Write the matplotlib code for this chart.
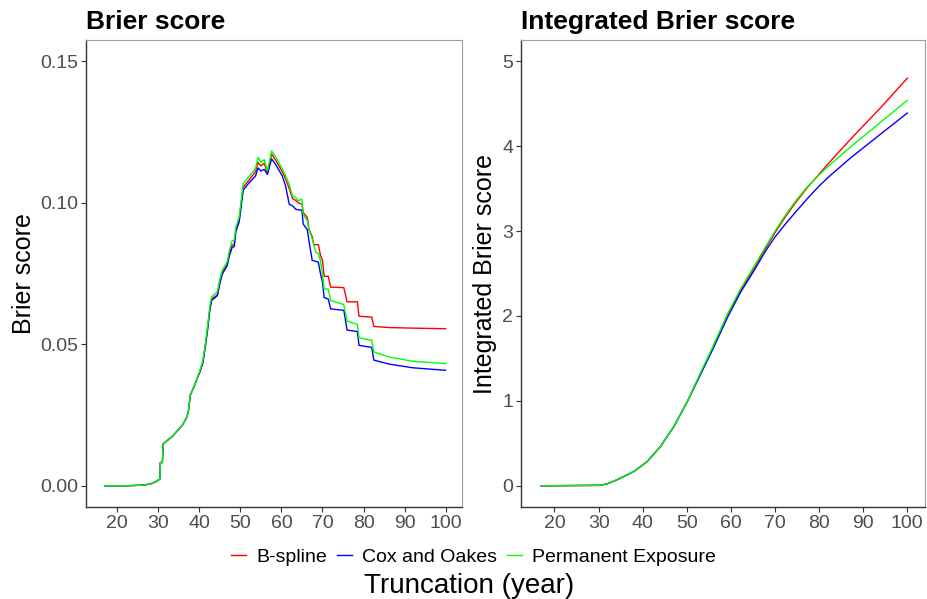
import matplotlib

matplotlib.use("Agg")

import matplotlib.pyplot as plt
from matplotlib.lines import Line2D

plt.rcParams["font.family"] = ["Liberation Sans", "DejaVu Sans"]

# Brier score by truncation age (shared evaluation grid for all three models)
bs_years = [
    17, 22, 26, 28, 29.5, 30.4, 30.5, 31.0, 31.2, 32.0, 33.4, 35.0, 35.9, 36.8,
    37.3, 37.8, 38.7, 39.5, 40.2, 40.9, 41.5, 42.0, 42.6, 43.0, 44.4, 45.0,
    45.6, 46.8, 47.3, 48.0, 48.5, 48.9, 49.7, 50.7, 52.1, 53.7, 54.3, 55.0,
    55.8, 56.6, 57.6, 58.6, 60.2, 61.0, 61.9, 62.7, 63.5, 64.1, 65.0, 65.3,
    66.3, 66.7, 67.5, 67.9, 68.4, 69.0, 69.5, 70.0, 70.4, 71.4, 72.0, 75.2,
    76.0, 78.5, 78.9, 82.0, 82.5, 86.2, 91.9, 100,
]
bs_early = [
    0.0, 0.0, 0.0002, 0.0006, 0.0015, 0.0024, 0.0082, 0.0082, 0.0148, 0.0158,
    0.0174, 0.0200, 0.0215, 0.0238, 0.0258, 0.0320, 0.0350, 0.0380,
]
bs_bspline = bs_early + [
    0.0406, 0.0440, 0.0500, 0.0555, 0.0630, 0.0660, 0.0675, 0.0720, 0.0752,
    0.0782, 0.0820, 0.0850, 0.0852, 0.0905, 0.0940, 0.1055, 0.1080, 0.1110,
    0.1143, 0.1130, 0.1140, 0.1105, 0.1172, 0.1150, 0.1110, 0.1085, 0.1050,
    0.1015, 0.1008, 0.1000, 0.0995, 0.0965, 0.0948, 0.0907, 0.0880, 0.0852,
    0.0852, 0.0852, 0.0815, 0.0796, 0.0740, 0.0740, 0.0702, 0.0700, 0.0650,
    0.0650, 0.0599, 0.0596, 0.0563, 0.0559, 0.0557, 0.0555,
]
bs_cox = bs_early + [
    0.0404, 0.0437, 0.0495, 0.0550, 0.0625, 0.0655, 0.0672, 0.0715, 0.0748,
    0.0778, 0.0812, 0.0842, 0.0845, 0.0898, 0.0932, 0.1045, 0.1070, 0.1095,
    0.1123, 0.1112, 0.1118, 0.1100, 0.1155, 0.1135, 0.1095, 0.1060, 0.0995,
    0.0989, 0.0977, 0.0975, 0.0974, 0.0925, 0.0905, 0.0866, 0.0796, 0.0795,
    0.0793, 0.0790, 0.0750, 0.0720, 0.0665, 0.0660, 0.0625, 0.0620, 0.0550,
    0.0545, 0.0496, 0.0489, 0.0444, 0.0430, 0.0417, 0.0408,
]
bs_perm = bs_early + [
    0.0410, 0.0446, 0.0505, 0.0562, 0.0640, 0.0668, 0.0686, 0.0730, 0.0762,
    0.0792, 0.0830, 0.0866, 0.0868, 0.0913, 0.0950, 0.1068, 0.1092, 0.1122,
    0.1160, 0.1143, 0.1152, 0.1113, 0.1183, 0.1162, 0.1120, 0.1095, 0.1065,
    0.1024, 0.1018, 0.1007, 0.1013, 0.0960, 0.0936, 0.0905, 0.0872, 0.0852,
    0.0825, 0.0820, 0.0796, 0.0748, 0.0696, 0.0694, 0.0655, 0.0640, 0.0582,
    0.0570, 0.0523, 0.0514, 0.0473, 0.0455, 0.0440, 0.0432,
]

# Integrated Brier score by truncation age
ibs_years = [17, 30.4, 32.0, 34.2, 38.0, 41.0, 44.0, 47.1, 50.1, 53.1, 56.1,
             59.2, 62.2, 65.2, 67.8, 70.0, 72.0, 74.6, 77.3, 80.0, 82.0,
             87.1, 93.9, 100]
ibs_early = [0.0, 0.005, 0.025, 0.07, 0.168, 0.285, 0.46, 0.70, 0.99]
ibs_bspline = ibs_early + [1.32, 1.65, 2.01, 2.30, 2.56, 2.79, 2.98, 3.14,
                           3.33, 3.51, 3.67, 3.79, 4.08, 4.45, 4.80]
ibs_cox = ibs_early + [1.31, 1.63, 1.98, 2.28, 2.53, 2.76, 2.93, 3.06,
                       3.22, 3.38, 3.53, 3.63, 3.86, 4.14, 4.39]
ibs_perm = ibs_early + [1.33, 1.66, 2.02, 2.32, 2.58, 2.81, 3.00, 3.16,
                        3.35, 3.52, 3.66, 3.76, 3.99, 4.28, 4.54]

model_names = ["B-spline", "Cox and Oakes", "Permanent Exposure"]
model_colors = ["#FF0000", "#0000FF", "#00FF00"]
x_ticks = [20, 30, 40, 50, 60, 70, 80, 90, 100]

fig = plt.figure(figsize=(9.28, 5.99), dpi=100)
fig.patch.set_facecolor("white")
ax1 = fig.add_axes([0.0927, 0.1536, 0.4052, 0.7796])
ax2 = fig.add_axes([0.5614, 0.1536, 0.4353, 0.7796])


def style_panel(ax, title, ylabel, label_x):
    ax.set_title(title, loc="left", fontsize=19, fontweight="bold", pad=8)
    ax.set_ylabel(ylabel, fontsize=18, color="black")
    ax.yaxis.set_label_coords(label_x, 0.5)
    ax.set_xlim(12.4, 104.0)
    ax.set_xticks(x_ticks)
    for side in ("left", "bottom"):
        ax.spines[side].set_color("#333333")
        ax.spines[side].set_linewidth(1.0)
    for side in ("top", "right"):
        ax.spines[side].set_color("#a0a0a0")
        ax.spines[side].set_linewidth(0.8)
    ax.tick_params(axis="both", direction="out", length=3.5, width=0.8,
                   color="#333333", labelcolor="#4d4d4d", labelsize=14, pad=2)


series_bs = [bs_bspline, bs_cox, bs_perm]
for values, color in zip(series_bs, model_colors):
    ax1.plot(bs_years, values, color=color, linewidth=1.0)
ax1.set_ylim(-0.0075, 0.1575)
ax1.set_yticks([0.0, 0.05, 0.10, 0.15])
ax1.set_yticklabels(["0.00", "0.05", "0.10", "0.15"])
style_panel(ax1, "Brier score", "Brier score", -0.133)

series_ibs = [ibs_bspline, ibs_cox, ibs_perm]
for values, color in zip(series_ibs, model_colors):
    ax2.plot(ibs_years, values, color=color, linewidth=1.0)
ax2.set_ylim(-0.25, 5.25)
ax2.set_yticks([0, 1, 2, 3, 4, 5])
style_panel(ax2, "Integrated Brier score", "Integrated Brier score", -0.059)

handles = [Line2D([0], [0], color=c, linewidth=1.0) for c in model_colors]
fig.legend(handles, model_names, loc="center", bbox_to_anchor=(0.51, 0.07),
           ncol=3, frameon=False, fontsize=14, handlelength=0.8,
           handletextpad=0.5, columnspacing=0.5)
fig.text(0.505, 0.010, "Truncation (year)", ha="center", va="baseline",
         fontsize=20, color="black")

fig.savefig("out.png", dpi=100)
plt.close(fig)
